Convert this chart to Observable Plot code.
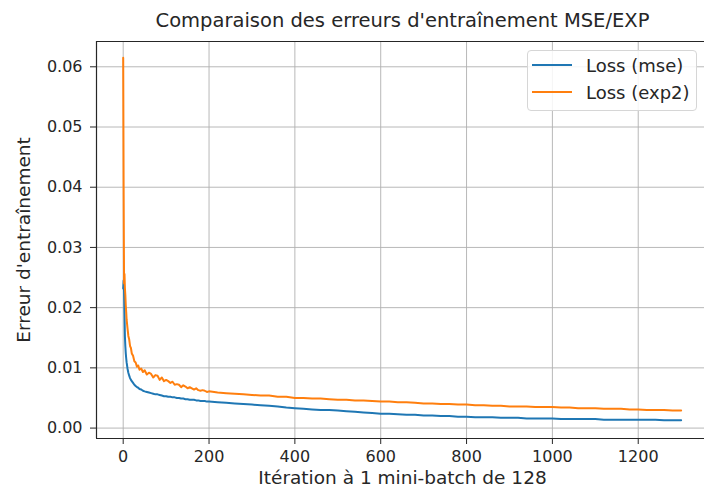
<!DOCTYPE html>
<html><head><meta charset="utf-8">
<script src="https://cdn.jsdelivr.net/npm/d3@7"></script>
<script src="https://cdn.jsdelivr.net/npm/@observablehq/plot@0.6"></script>
<style>
html,body{margin:0;padding:0;background:#fff;}
#wrap{position:relative;width:704px;height:495px;overflow:hidden;font-family:"DejaVu Sans";}
#legend{position:absolute;left:527px;top:50px;width:170px;height:61px;border:1px solid #d6d6d6;border-radius:4px;background:rgba(255,255,255,0.85);box-sizing:border-box;}
.row{position:absolute;left:4px;height:22px;display:flex;align-items:center;font-size:18px;color:#262626;white-space:nowrap;}
.sw{width:40px;height:2px;margin-right:14px;}
</style>
</head><body>
<div id="wrap"><div id="chart"></div>
<div id="legend"></div></div>
<script>
const title = "Comparaison des erreurs d'entraînement MSE/EXP";
const xLabel = "Itération à 1 mini-batch de 128";
const yLabel = "Erreur d'entraînement";
const seriesNames = ["Loss (mse)", "Loss (exp2)"];
const seriesColors = ["#1f77b4", "#ff7f0e"];
const xTicks = [0, 200, 400, 600, 800, 1000, 1200];
const yTicks = [0.00, 0.01, 0.02, 0.03, 0.04, 0.05, 0.06];
const xDomain = [-62.2, 1354.4];
const yDomain = [-0.00173, 0.0642];

const iterations = [0,1,2,3,4,5,6,7,8,10,12,14,16,18,20,23,26,29,32,35,38,42,46,50,
55,60,65,70,75,80,85,90,95,100,105,110,115,120,125,130,135,140,145,150,155,160,165,170,175,180,185,190,195,200,
220,240,260,280,300,320,340,360,380,400,420,440,460,480,500,520,540,560,580,600,620,640,660,680,700,
720,740,760,780,800,820,840,860,880,900,920,940,960,980,1000,1020,1040,1060,1080,1100,1120,1140,1160,1180,1200,
1220,1240,1260,1280,1300];

const lossMse = [0.0232,0.0245,0.0226,0.0190,0.0152,0.0136,0.0124,0.0116,0.0109,0.0099,0.0092,0.0087,0.0083,0.0080,0.0078,0.0075,0.0072,0.0070,0.0068,0.0067,0.0065,0.0064,0.0062,0.0061,
0.0060,0.0059,0.0058,0.0057,0.0056,0.0056,0.0055,0.0054,0.0053,0.0053,0.0052,0.0052,0.0051,0.0051,0.0050,0.0050,0.0049,0.0049,0.0048,0.0048,0.0047,0.0047,0.0047,0.0046,0.0046,0.0045,0.0045,0.0045,0.0044,0.0044,
0.0043,0.0042,0.0041,0.0040,0.0039,0.0038,0.0037,0.0036,0.0034,0.0033,0.0032,0.0031,0.0030,0.0030,0.0029,0.0028,0.0027,0.0026,0.0025,0.0024,0.0024,0.0023,0.0022,0.0022,0.0021,
0.0021,0.0020,0.0020,0.0019,0.0019,0.0018,0.0018,0.0018,0.0017,0.0017,0.0017,0.0016,0.0016,0.0016,0.0016,0.0015,0.0015,0.0015,0.0015,0.0015,0.0014,0.0014,0.0014,0.0014,0.0014,
0.0014,0.0014,0.0013,0.0013,0.0013];

const lossExp = [0.0615,0.0400,0.0240,0.0256,0.0232,0.0221,0.0204,0.0193,0.0180,0.0166,0.0153,0.0147,0.0136,0.0133,0.0124,0.0120,0.0111,0.0109,0.0102,0.0104,0.0097,0.0099,0.0093,0.0096,
0.0089,0.0092,0.0090,0.0084,0.0088,0.0087,0.0080,0.0084,0.0078,0.0080,0.0078,0.0075,0.0077,0.0072,0.0073,0.0072,0.0068,0.0071,0.0069,0.0066,0.0068,0.0066,0.0064,0.0066,0.0063,0.0062,0.0063,0.0062,0.0060,0.0061,
0.0059,0.0058,0.0057,0.0056,0.0055,0.0054,0.0054,0.0052,0.0052,0.0050,0.0050,0.0049,0.0049,0.0048,0.0047,0.0047,0.0046,0.0046,0.0045,0.0044,0.0044,0.0043,0.0043,0.0042,0.0041,
0.0041,0.0040,0.0040,0.0039,0.0039,0.0038,0.0038,0.0037,0.0037,0.0036,0.0036,0.0036,0.0035,0.0035,0.0035,0.0034,0.0034,0.0033,0.0033,0.0033,0.0032,0.0032,0.0032,0.0031,0.0031,
0.0030,0.0030,0.0030,0.0029,0.0029];

const mse = iterations.map((it, i) => ({it, v: lossMse[i]}));
const exp2 = iterations.map((it, i) => ({it, v: lossExp[i]}));
const ink = "#262626";

const chart = Plot.plot({
  width: 704, height: 495,
  marginLeft: 96, marginRight: 0, marginTop: 41, marginBottom: 57,
  style: {fontFamily: "DejaVu Sans", fontSize: "16px", color: ink, background: "white", overflow: "hidden"},
  x: {domain: xDomain, label: null},
  y: {domain: yDomain, label: null},
  marks: [
    Plot.gridX(xTicks, {stroke: "#b0b0b0", strokeOpacity: 1, strokeWidth: 0.9}),
    Plot.gridY(yTicks, {stroke: "#b0b0b0", strokeOpacity: 1, strokeWidth: 0.9}),
    Plot.lineY(mse, {x: "it", y: "v", stroke: seriesColors[0], strokeWidth: 2}),
    Plot.lineY(exp2, {x: "it", y: "v", stroke: seriesColors[1], strokeWidth: 2}),
    Plot.ruleY([yDomain[0], yDomain[1]], {stroke: ink, strokeWidth: 1.2}),
    Plot.ruleX([xDomain[0]], {stroke: ink, strokeWidth: 1.2}),
    Plot.axisX(xTicks, {tickSize: 6, tickPadding: 6, tickFormat: d => String(d), stroke: ink, fill: ink, fontSize: 16, label: null}),
    Plot.axisY(yTicks, {tickSize: 6, tickPadding: 8, tickFormat: d3.format(".2f"), stroke: ink, fill: ink, fontSize: 16, label: null}),
    Plot.text([title], {text: d => d, frameAnchor: "top", lineAnchor: "middle", dy: -21, dx: 2, fontSize: 19.5, fill: ink}),
    Plot.text([xLabel], {text: d => d, frameAnchor: "bottom", lineAnchor: "middle", dy: 40, dx: 2, fontSize: 18.5, fill: ink}),
    Plot.text([yLabel], {text: d => d, frameAnchor: "left", textAnchor: "middle", lineAnchor: "middle", dx: -72, rotate: -90, fontSize: 18.5, fill: ink})
  ]
});
document.getElementById("chart").appendChild(chart);

const leg = document.getElementById("legend");
seriesNames.forEach((name, i) => {
  const row = document.createElement("div");
  row.className = "row";
  row.style.top = (i === 0 ? 3 : 30) + "px";
  const sw = document.createElement("div");
  sw.className = "sw";
  sw.style.background = seriesColors[i];
  row.appendChild(sw);
  row.appendChild(document.createTextNode(name));
  leg.appendChild(row);
});
</script>
</body></html>
